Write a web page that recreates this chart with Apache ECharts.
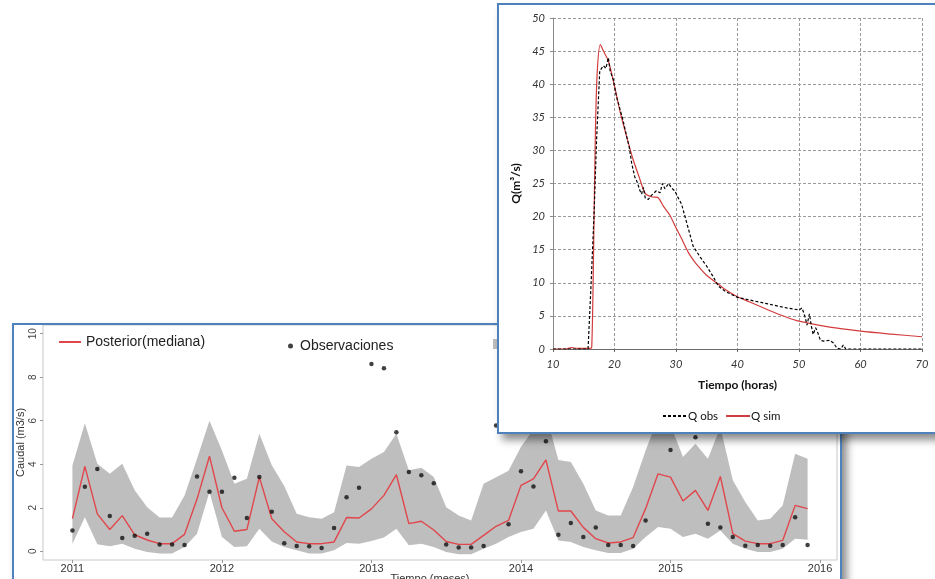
<!DOCTYPE html>
<html>
<head>
<meta charset="utf-8">
<script src="https://cdn.jsdelivr.net/npm/echarts@6/dist/echarts.min.js"></script>
<style>
  html, body { margin: 0; padding: 0; width: 935px; height: 579px; overflow: hidden; background: #fff; }
  .panel { position: absolute; box-sizing: border-box; border: 2px solid #4f81bd; background: #fff;
           box-shadow: 5px 6px 8px rgba(0, 0, 0, 0.45); }
  #caudal { left: 12px; top: 323px; width: 830px; height: 282px; z-index: 1; }
  #hidro { left: 497px; top: 3px; width: 470px; height: 431px; z-index: 2; }
</style>
</head>
<body>
<div id="caudal" class="panel"></div>
<div id="hidro" class="panel"></div>
<script>
// --- caudal mensual 2011-2015 (panel de abajo) ---
const yearTicks = [2011, 2012, 2013, 2014, 2015, 2016];
const mediana = [1.5, 3.9, 1.72, 1.0, 1.64, 0.76, 0.52, 0.35, 0.35, 0.78, 2.4, 4.37,
  2.0, 0.92, 1.0, 3.41, 1.5, 0.9, 0.43, 0.35, 0.35, 0.43, 1.55, 1.53,
  1.95, 2.57, 3.52, 1.27, 1.38, 0.98, 0.45, 0.32, 0.32, 0.73, 1.15, 1.42,
  3.03, 3.33, 4.2, 1.85, 1.85, 1.1, 0.58, 0.38, 0.43, 0.63, 1.96, 3.56,
  3.41, 2.31, 2.8, 1.88, 3.44, 0.81, 0.47, 0.35, 0.35, 0.5, 2.11, 1.96];
const superior = [3.94, 5.89, 4.02, 3.56, 4.02, 2.8, 2.03, 1.55, 1.55, 2.57, 4.25, 6.0,
  4.63, 3.1, 3.33, 5.4, 3.95, 3.0, 1.73, 1.57, 1.5, 1.8, 3.94, 3.87,
  4.25, 4.56, 5.4, 3.72, 3.84, 3.41, 2.03, 1.65, 1.42, 3.1, 3.4, 3.7,
  4.8, 5.6, 6.3, 4.2, 4.1, 3.1, 1.88, 1.65, 1.65, 2.95, 4.63, 6.1,
  5.8, 4.33, 4.94, 4.25, 5.7, 3.26, 2.26, 1.42, 1.5, 2.1, 4.48, 4.25];
const inferior = [0.35, 1.57, 0.32, 0.23, 0.35, 0.12, -0.03, -0.1, -0.1, 0.2, 0.81, 2.72,
  0.66, 0.2, 0.23, 1.04, 0.45, 0.2, 0.05, -0.1, -0.1, 0.05, 0.38, 0.35,
  0.47, 0.63, 1.04, 0.28, 0.35, 0.2, -0.03, -0.13, -0.13, 0.12, 0.35, 0.66,
  0.89, 1.04, 1.88, 0.5, 0.43, 0.2, 0.05, -0.08, -0.08, 0.12, 0.66, 1.12,
  1.04, 0.66, 0.81, 0.58, 0.96, 0.35, 0.12, -0.03, -0.03, 0.12, 0.58, 0.53];
const observaciones = [0.96, 2.97, 3.78, 1.62, 0.61, 0.72, 0.81, 0.31, 0.31, 0.29, 3.44, 2.74,
  2.74, 3.38, 1.53, 3.41, 1.82, 0.37, 0.24, 0.23, 0.15, 1.07, 2.48, 2.92,
  8.61, 8.41, 5.47, 3.64, 3.5, 3.13, 0.31, 0.18, 0.17, 0.24, 5.78, 1.24,
  3.68, 2.98, 5.06, 0.76, 1.3, 0.66, 1.09, 0.29, 0.29, 0.24, 1.42, 5.9,
  4.66, 6.2, 5.24, 1.27, 1.09, 0.66, 0.26, 0.29, 0.26, 0.29, 1.57, 0.29];
const caudalTicks = [0, 2, 4, 6, 8, 10];

// --- hidrograma de crecida (panel de arriba) ---
const obsHoras = [10, 15.7, 16.2, 16.7, 17.1, 17.6, 18.2, 18.6, 19.0, 19.3, 19.8, 20.3, 20.9, 21.4, 22.0,
  22.4, 22.8, 23.3, 23.7, 24.1, 24.4, 24.7, 25.0, 25.5, 26.0, 26.3, 26.8, 27.4, 27.8, 28.2, 28.5, 28.8,
  29.3, 29.8, 30.2, 30.9, 32.0, 32.8, 34.0, 35.0, 36.0, 36.9, 38.0, 40.0, 42.0, 44.0, 46.0, 48.0, 50.0,
  50.5, 51.0, 51.3, 51.7, 52.0, 52.3, 52.7, 53.0, 53.5, 54.0, 55.0, 55.6, 56.2, 56.8, 57.2, 57.6, 60, 65, 70];
const obsQ = [0, 0, 10, 21, 32, 42, 42.8, 42.4, 44, 42, 40.7, 38.2, 36.2, 34.5, 32,
  30.5, 28, 26, 25.2, 24, 23.4, 24.4, 22.8, 22.6, 23.2, 23.4, 23.9, 23.6, 25, 24.2, 24.1, 25,
  24.3, 23.9, 23.1, 21.9, 18.2, 15.5, 13.8, 12.5, 11, 9.5, 8.7, 7.8, 7.4, 7, 6.6, 6.2, 5.9,
  6.2, 4.8, 3.6, 5.3, 3.5, 2.2, 3.2, 2.6, 1.3, 1.2, 1.3, 0.9, 0.1, 0, 0.6, 0, 0, 0, 0];
const simHoras = [10, 12, 13, 14, 16, 16.3, 16.6, 16.9, 17.2, 17.7, 18.2, 19, 20, 21, 22, 23, 24, 25,
  26, 27, 28, 29, 30, 31, 32, 33, 34, 35, 36, 37, 38, 40, 42, 45, 48, 50, 55, 60, 65, 70];
const simQ = [0, 0, 0.2, 0.1, 0.1, 0.3, 15, 33, 42, 46, 45, 43.5, 39.7, 35.5, 32, 28.7, 26, 23.5,
  23, 22.9, 21.5, 20.2, 18.3, 16.5, 14.6, 13.2, 12.1, 11.1, 10.4, 9.7, 9, 7.9, 7.1, 5.9, 4.8, 4.2, 3.3, 2.7, 2.25, 1.85];

const rFont = '"Liberation Sans", Arial, sans-serif';
const xlFont = 'Lato, "Open Sans", sans-serif';

// panel de abajo
var caudalChart = echarts.init(document.getElementById('caudal'));
var meses = mediana.map(function (v, i) { return i; });
caudalChart.setOption({
  animation: false,
  backgroundColor: '#fff',
  textStyle: { fontFamily: rFont },
  legend: [
    { left: 44, top: 10, padding: 0, itemWidth: 22, itemHeight: 14, itemGap: 10,
      itemStyle: { opacity: 0 },
      textStyle: { fontSize: 14, color: '#222', fontFamily: rFont },
      data: ['Posterior(mediana)'] },
    { left: 274, top: 14, padding: 0, itemWidth: 5, itemHeight: 5, icon: 'circle',
      textStyle: { fontSize: 14, color: '#222', fontFamily: rFont, padding: [0, 0, 0, 2] },
      data: ['Observaciones'] },
    { left: 479, top: 12, padding: 0, itemWidth: 10, itemHeight: 10, icon: 'rect',
      textStyle: { fontSize: 14, color: '#222', fontFamily: rFont },
      data: ['Intervalo 95%'] }
  ],
  grid: { left: 29, top: 0, width: 794, height: 235, outerBoundsMode: 'none',
    show: true, borderColor: '#c8c8c8', borderWidth: 1 },
  xAxis: {
    type: 'value', min: -2.36, max: 61.36,
    name: 'Tiempo (meses)', nameLocation: 'middle', nameGap: 13, nameMoveOverlap: false,
    nameTextStyle: { fontSize: 11, color: '#333', padding: [0, 20, 0, 0] },
    axisLine: { show: false, onZero: false },
    axisTick: { customValues: [0, 12, 24, 36, 48, 60], length: 3, lineStyle: { color: '#999' } },
    axisLabel: { customValues: [0, 12, 24, 36, 48, 60], margin: 3, fontSize: 11, color: '#333',
      formatter: function (v) { return String(yearTicks[Math.round(v / 12)]); } },
    splitLine: { show: false }
  },
  yAxis: {
    type: 'value', min: -0.4, max: 10.4,
    name: 'Caudal (m3/s)', nameLocation: 'middle', nameGap: 17, nameMoveOverlap: false,
    nameTextStyle: { fontSize: 11, color: '#333' },
    axisLine: { show: false, onZero: false },
    axisTick: { customValues: caudalTicks, length: 3, lineStyle: { color: '#999' } },
    axisLabel: { customValues: caudalTicks, rotate: 90, margin: 5, fontSize: 10, color: '#444' },
    splitLine: { show: false }
  },
  series: [
    { name: 'Intervalo 95%', type: 'custom', itemStyle: { color: '#bebebe' }, z: 1, silent: true,
      data: meses.map(function (m) { return [m, inferior[m], superior[m]]; }),
      renderItem: function (params, api) {
        if (params.dataIndex !== 0) return null;
        var pts = [];
        for (var i = 0; i < meses.length; i++) pts.push(api.coord([meses[i], superior[i]]));
        for (var j = meses.length - 1; j >= 0; j--) pts.push(api.coord([meses[j], inferior[j]]));
        return { type: 'polygon', shape: { points: pts }, style: { fill: '#bebebe' } };
      } },
    { name: 'Posterior(mediana)', type: 'line', symbol: 'none', z: 2,
      itemStyle: { color: '#e0464b' }, lineStyle: { color: '#e0464b', width: 1.4 },
      data: meses.map(function (m) { return [m, mediana[m]]; }) },
    { name: 'Observaciones', type: 'scatter', symbol: 'circle', symbolSize: 4.5, z: 3,
      itemStyle: { color: '#111' },
      data: meses.map(function (m) { return [m, observaciones[m]]; }) }
  ]
});

// panel de arriba
var hidroChart = echarts.init(document.getElementById('hidro'));
hidroChart.setOption({
  animation: false,
  backgroundColor: '#fff',
  textStyle: { fontFamily: xlFont },
  legend: {
    left: 163, top: 405, padding: 0, itemWidth: 24, itemHeight: 10, itemGap: 7,
    itemStyle: { opacity: 0 },
    textStyle: { fontSize: 11.5, color: '#111', fontFamily: xlFont, padding: [0, 0, 0, -4] },
    data: ['Q obs', 'Q sim']
  },
  grid: { left: 54, top: 13, width: 369, height: 331, outerBoundsMode: 'none' },
  xAxis: {
    type: 'value', min: 10, max: 70, interval: 10,
    name: 'Tiempo (horas)', nameLocation: 'middle', nameGap: 30, nameMoveOverlap: false,
    nameTextStyle: { fontSize: 12, fontWeight: 'bold', color: '#111' },
    axisLine: { lineStyle: { color: '#6a6a6a', width: 1.2 } },
    axisTick: { length: 3, lineStyle: { color: '#6a6a6a' } },
    axisLabel: { margin: 10, fontSize: 11, fontStyle: 'italic', color: '#333' },
    splitLine: { lineStyle: { color: '#9a9a9a', type: [3, 2] } }
  },
  yAxis: {
    type: 'value', min: 0, max: 50, interval: 5,
    name: 'Q(m\u00b3/s)', nameLocation: 'middle', nameGap: 31, nameMoveOverlap: false,
    nameTextStyle: { fontSize: 12, fontWeight: 'bold', color: '#111' },
    axisLine: { show: true, lineStyle: { color: '#8a8a8a' } },
    axisTick: { show: true, length: 3, lineStyle: { color: '#8a8a8a' } },
    axisLabel: { margin: 8, fontSize: 11, fontStyle: 'italic', color: '#333' },
    splitLine: { lineStyle: { color: '#9a9a9a', type: [3, 2] } }
  },
  series: [
    { name: 'Q obs', type: 'line', symbol: 'none', z: 3,
      itemStyle: { color: '#000' },
      lineStyle: { color: '#000', width: 1.2, type: [3, 2] },
      data: obsHoras.map(function (h, i) { return [h, obsQ[i]]; }) },
    { name: 'Q sim', type: 'line', symbol: 'none', smooth: 0.3, z: 2,
      itemStyle: { color: '#d23c3c' },
      lineStyle: { color: '#d23c3c', width: 1.2 },
      data: simHoras.map(function (h, i) { return [h, simQ[i]]; }) }
  ]
});
</script>
</body>
</html>
